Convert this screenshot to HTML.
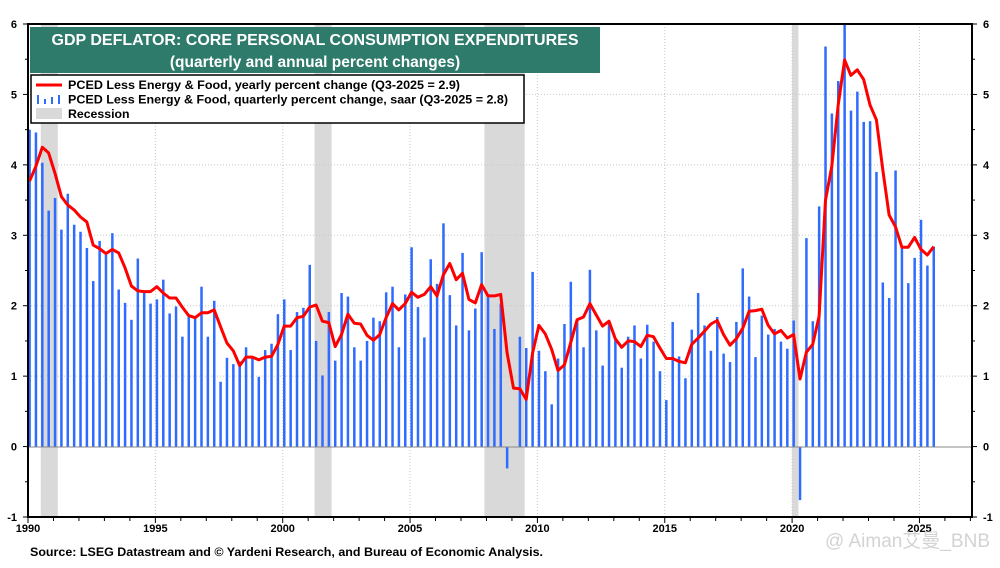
<!DOCTYPE html>
<html><head><meta charset="utf-8">
<style>
html,body{margin:0;padding:0;background:#fff;}
body{width:1000px;height:563px;overflow:hidden;font-family:"Liberation Sans",Arial,sans-serif;}
</style></head>
<body>
<svg id="chart" width="1000" height="563" viewBox="0 0 1000 563" xmlns="http://www.w3.org/2000/svg" font-family="Liberation Sans, Noto Sans CJK SC, sans-serif">
<g id="recessions"></g>
<g id="grid"></g>
<g id="bars"></g>
<line x1="28" y1="447" x2="972" y2="447" stroke="#888" stroke-width="1"/>
<path id="yoyline" fill="none" stroke="#ff0000" stroke-width="3" stroke-linejoin="round"/>
<rect x="28" y="24" width="944" height="493" fill="none" stroke="#000" stroke-width="2"/>
<g id="axes" font-size="11" font-weight="bold" fill="#000"></g>
<rect x="30" y="27" width="570" height="46" fill="#2e7b6c"/>
<text x="315" y="45" text-anchor="middle" fill="#fff" font-size="15.5" font-weight="bold" textLength="527" lengthAdjust="spacingAndGlyphs">GDP DEFLATOR: CORE PERSONAL CONSUMPTION EXPENDITURES</text>
<text x="315" y="67" text-anchor="middle" fill="#fff" font-size="15.5" font-weight="bold">(quarterly and annual percent changes)</text>
<g>
<rect x="31" y="75" width="493" height="48" fill="#fff" stroke="#000" stroke-width="1.5"/>
<line x1="36" y1="85" x2="62" y2="85" stroke="#ff0000" stroke-width="3"/>
<text x="68" y="89" font-size="12.3" font-weight="bold" textLength="392" lengthAdjust="spacingAndGlyphs">PCED Less Energy &amp; Food,  yearly percent change (Q3-2025 = 2.9)</text>
<g fill="#2f6bff"><rect x="37" y="95" width="2" height="9"/><rect x="44" y="99" width="2" height="5"/><rect x="51" y="97" width="2" height="7"/><rect x="58" y="95" width="2" height="9"/></g>
<text x="68" y="103.5" font-size="12.3" font-weight="bold" textLength="440" lengthAdjust="spacingAndGlyphs">PCED Less Energy &amp; Food, quarterly percent change, saar  (Q3-2025 = 2.8)</text>
<rect x="36" y="108" width="26" height="11" fill="#d9d9d9"/>
<text x="68" y="118" font-size="12.3" font-weight="bold">Recession</text>
</g>
<text x="30" y="556" font-size="12" font-weight="bold" textLength="513" lengthAdjust="spacingAndGlyphs">Source: LSEG Datastream and © Yardeni Research, and Bureau of Economic Analysis.</text>
<text x="990" y="547" text-anchor="end" font-size="19" fill="#c8c8c8" fill-opacity="0.8">@ Aiman艾曼_BNB</text>
</svg>
<script>
const quarterlyChange = [4.5,4.46,4.03,3.35,3.53,3.08,3.59,3.15,3.05,2.82,2.35,2.92,2.72,3.03,2.23,2.04,1.80,2.67,2.18,2.03,2.09,2.37,1.89,1.99,1.56,1.86,1.83,2.27,1.56,2.07,0.92,1.26,1.17,1.21,1.41,1.26,0.99,1.37,1.46,1.88,2.09,1.37,1.91,1.97,2.58,1.50,1.01,1.91,1.22,2.18,2.13,
1.41,1.22,1.50,1.83,1.78,2.19,2.27,1.41,2.16,2.83,1.98,1.55,2.66,2.31,3.17,2.15,1.72,2.75,1.65,1.96,2.76,2.12,1.67,2.03,-0.31,0,1.56,1.40,2.48,1.36,1.07,0.60,1.25,1.74,2.34,1.80,1.41,2.51,1.65,1.15,1.77,1.53,1.12,1.56,1.72,1.25,1.73,1.49,
1.07,0.66,1.77,1.28,0.97,1.66,2.18,1.72,1.36,1.84,1.32,1.20,1.77,2.53,2.13,1.27,1.86,1.59,1.67,1.49,1.39,1.79,-0.76,2.96,1.78,3.41,5.68,4.73,5.19,6.1,4.77,5.04,4.61,4.62,3.90,2.33,2.11,3.92,2.84,2.32,2.68,3.22,2.57,2.84];
const yearlyChange = [3.77,3.98,4.25,4.17,3.88,3.55,3.43,3.36,3.26,3.19,2.86,2.81,2.74,2.80,2.75,2.54,2.28,2.21,2.20,2.20,2.27,2.18,2.11,2.11,1.98,1.86,1.83,1.90,1.90,1.94,1.70,1.47,1.36,1.15,1.27,1.27,1.23,1.27,1.28,1.45,1.71,1.71,1.83,1.85,1.98,2.01,1.78,1.76,1.42,1.59,1.88,
1.75,1.74,1.58,1.51,1.59,1.83,2.03,1.94,2.03,2.19,2.12,2.16,2.27,2.14,2.44,2.60,2.37,2.46,2.09,2.04,2.30,2.14,2.14,2.16,1.33,0.83,0.82,0.67,1.33,1.72,1.60,1.38,1.08,1.16,1.48,1.80,1.84,2.03,1.87,1.71,1.78,1.53,1.41,1.50,1.49,1.42,1.58,1.56,
1.40,1.25,1.25,1.21,1.19,1.45,1.54,1.64,1.74,1.79,1.59,1.44,1.53,1.68,1.92,1.93,1.95,1.72,1.60,1.65,1.54,1.59,0.96,1.34,1.45,1.85,3.50,3.98,4.85,5.49,5.27,5.35,5.21,4.85,4.64,3.93,3.29,3.12,2.83,2.83,2.97,2.80,2.72,2.84];
const recessionStart = [1990.5, 2001.25, 2007.92, 2020.0];
const recessionEnd = [1991.17, 2001.92, 2009.5, 2020.25];
const yTicks = [-1,0,1,2,3,4,5,6];
const xTickYears = [1990,1995,2000,2005,2010,2015,2020,2025];
const startYear = 1990;

const NS = "http://www.w3.org/2000/svg";
const X0 = 28, X1 = 972, Y0 = 24, Y1 = 517;
const yMin = -1, yMax = 6;
function xScale(t){ return X0 + (t - 1990) * 25.47; }
function yScale(v){ return Y1 - (v - yMin) / (yMax - yMin) * (Y1 - Y0); }
function mk(tag, attrs, parent){
  const e = document.createElementNS(NS, tag);
  for (const k in attrs) e.setAttribute(k, attrs[k]);
  parent.appendChild(e); return e;
}
const gRec = document.getElementById('recessions');
recessionStart.forEach((s,i)=>{
  const r = mk('rect',{x:xScale(s),y:Y0,width:xScale(recessionEnd[i])-xScale(s),height:Y1-Y0,fill:'#d9d9d9'},gRec);
  
  
});
const gGrid = document.getElementById('grid');
yTicks.forEach(v=>{
  if (v===yMin||v===yMax||v===0) return;
  const l = mk('line',{x1:X0,x2:X1,y1:yScale(v),y2:yScale(v),stroke:'#c8c8c8','stroke-dasharray':'1,2'},gGrid);
  
  
});
xTickYears.forEach(t=>{
  if (t===1990) return;
  const l = mk('line',{x1:xScale(t),x2:xScale(t),y1:Y0,y2:Y1,stroke:'#c8c8c8','stroke-dasharray':'1,2'},gGrid);
  
  
});
const gBars = document.getElementById('bars');
quarterlyChange.forEach((v,i)=>{
  const t = startYear + i/4 + 0.06;
  const cv = Math.max(yMin, Math.min(yMax, v));
  const y = Math.min(yScale(cv), yScale(0));
  const h = Math.abs(yScale(cv) - yScale(0));
  const b = mk('rect',{x:xScale(t)-1.2,y:y,width:2.5,height:h,fill:'#2f6bff'},gBars);
  
  
});
let d = '';
yearlyChange.forEach((v,i)=>{
  const t = startYear + i/4 + 0.06;
  d += (i?'L':'M') + xScale(t).toFixed(1) + ',' + yScale(v).toFixed(1);
});
document.getElementById('yoyline').setAttribute('d', d);
const gAx = document.getElementById('axes');
yTicks.forEach(v=>{
  const y = yScale(v);
  const a = mk('text',{x:17,y:y+4,'text-anchor':'end'},gAx); a.textContent = v;
  
  
  const b = mk('text',{x:983,y:y+4,'text-anchor':'start'},gAx); b.textContent = v;
  
  
  mk('line',{x1:X0-5,x2:X0,y1:y,y2:y,stroke:'#000'},gAx);
  mk('line',{x1:X1,x2:X1+5,y1:y,y2:y,stroke:'#000'},gAx);
  if (v<yMax){ const ym=yScale(v+0.5);
    mk('line',{x1:X0-3,x2:X0,y1:ym,y2:ym,stroke:'#000'},gAx);
    mk('line',{x1:X1,x2:X1+3,y1:ym,y2:ym,stroke:'#000'},gAx);}
});
for (let yr=1990; yr<=2027; yr++){
  const x = xScale(yr);
  if (x>X1) break;
  mk('line',{x1:x,x2:x,y1:Y1,y2:Y1+(yr%5===0?6:4),stroke:'#000'},gAx);
}
xTickYears.forEach(t=>{
  const a = mk('text',{x:xScale(t),y:Y1+15,'text-anchor':'middle'},gAx); a.textContent = t;
  
  
});
</script>
</body></html>
